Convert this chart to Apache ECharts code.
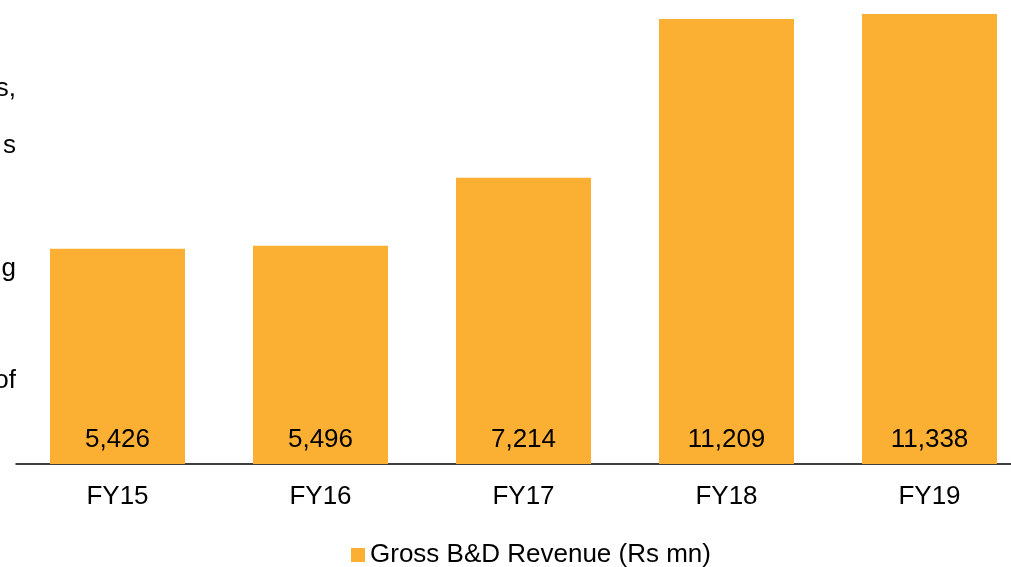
<!DOCTYPE html>
<html><head><meta charset="utf-8">
<script src="https://cdn.jsdelivr.net/npm/echarts@6/dist/echarts.min.js"></script>
<style>html,body{margin:0;padding:0;background:#fff;overflow:hidden;width:1011px;height:567px}#c{width:1031px;height:567px}</style>
</head><body><div id="c"></div>
<script>
var categories = ['FY15', 'FY16', 'FY17', 'FY18', 'FY19'];
var revenue = [5426, 5496, 7214, 11209, 11338];
var seriesName = 'Gross B&D Revenue (Rs mn)';
var sideFragments = ['s,', 's', 'g', 'of'];
var fragY = [88, 145, 268, 380];

var FONT = '"Liberation Sans", Arial, sans-serif';
var chart = echarts.init(document.getElementById('c'), null, {renderer: 'canvas'});
chart.setOption({
  animation: false,
  textStyle: {fontFamily: FONT},
  grid: {left: 16, right: 0, top: 14, bottom: 103, containLabel: false},
  legend: {
    data: [seriesName], top: 537, left: 346,
    itemWidth: 14, itemHeight: 14, itemGap: 4,
    icon: 'rect',
    textStyle: {fontSize: 26, color: '#000', fontFamily: FONT, padding: [0, 0, 0, 0]}
  },
  xAxis: {
    type: 'category', data: categories,
    axisLine: {lineStyle: {color: '#000', width: 1.5}},
    axisTick: {show: false},
    axisLabel: {fontSize: 26, color: '#000', margin: 20, fontFamily: FONT}
  },
  yAxis: {
    type: 'value', min: 0, max: function (v) { return v.max; },
    show: false, splitLine: {show: false}
  },
  series: [{
    name: seriesName, type: 'bar', data: revenue,
    barWidth: '66.5%',
    itemStyle: {color: '#FBB033'},
    label: {
      show: true, position: 'insideBottom', distance: 11,
      fontSize: 26, color: '#000', fontFamily: FONT,
      formatter: function (p) { return p.value.toLocaleString('en-US'); }
    }
  }],
  graphic: sideFragments.map(function (t, i) {
    return {type: 'text', right: 1031 - 16, top: fragY[i] - 12,
      style: {text: t, font: '26px ' + FONT, fill: '#000', textAlign: 'right'}};
  })
});
</script></body></html>
